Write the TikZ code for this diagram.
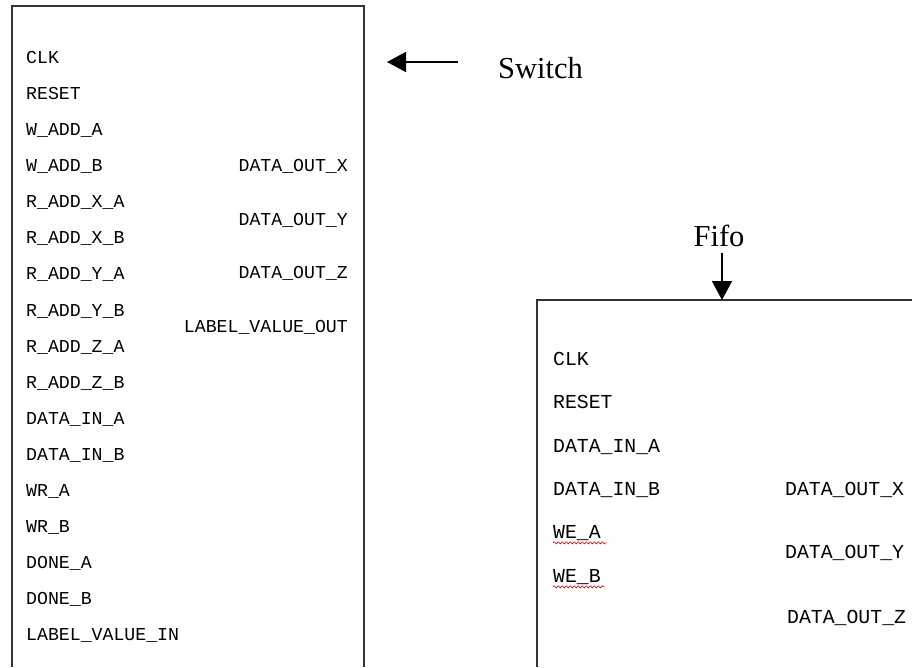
\documentclass[tikz,border=0pt]{standalone}
\usepackage{fontspec}
\setmainfont{Liberation Serif}
\newfontfamily\pinfont{Liberation Mono}
\usepackage{tikz}
\usetikzlibrary{arrows.meta,positioning,decorations.pathmorphing}

\begin{document}
\begin{tikzpicture}[
    x=1pt, y=-1pt,
    block/.style={draw=black!80, line width=1.2pt},
    pinL/.style={anchor=mid west, inner sep=0pt, yshift=-3.5pt, font=\pinfont\fontsize{18.2}{20}\selectfont},
    pinR/.style={anchor=mid east, inner sep=0pt, yshift=-3.5pt, font=\pinfont\fontsize{18.2}{20}\selectfont},
    fpinL/.style={anchor=mid west, inner sep=0pt, yshift=-3.5pt, font=\pinfont\fontsize{19.8}{22}\selectfont},
    title/.style={inner sep=0pt, font=\fontsize{30.5}{34}\selectfont},
    pointer/.style={line width=1.6pt, -{Triangle[length=19pt,width=20pt]}},
    squiggle/.style={draw=red!85!black, line width=0.6pt, decorate,
        decoration={snake, amplitude=1.1pt, segment length=4pt}}
]
\useasboundingbox (0,0) rectangle (912,667);

% Switch block
\draw[block] (12,667) -- (12,6) -- (364,6) -- (364,667);

\node[pinL] (clkS) at (26,57.5) {CLK};
\node[pinL] (resetS) at (26,93.6) {RESET};
\node[pinL] (waddA) at (26,129.7) {W\_ADD\_A};
\node[pinL] (waddB) at (26,165.8) {W\_ADD\_B};
\node[pinL] (raddXA) at (26,201.9) {R\_ADD\_X\_A};
\node[pinL] (raddXB) at (26,238.0) {R\_ADD\_X\_B};
\node[pinL] (raddYA) at (26,274.1) {R\_ADD\_Y\_A};
\node[pinL] (raddYB) at (26,310.2) {R\_ADD\_Y\_B};
\node[pinL] (raddZA) at (26,346.3) {R\_ADD\_Z\_A};
\node[pinL] (raddZB) at (26,382.4) {R\_ADD\_Z\_B};
\node[pinL] (dinAS) at (26,418.5) {DATA\_IN\_A};
\node[pinL] (dinBS) at (26,454.6) {DATA\_IN\_B};
\node[pinL] (wrA) at (26,490.7) {WR\_A};
\node[pinL] (wrB) at (26,526.8) {WR\_B};
\node[pinL] (doneA) at (26,562.9) {DONE\_A};
\node[pinL] (doneB) at (26,599.0) {DONE\_B};
\node[pinL] (lblin) at (26,635.1) {LABEL\_VALUE\_IN};

\node[pinR] (doutXS) at (348,166) {DATA\_OUT\_X};
\node[pinR] (doutYS) at (348,220) {DATA\_OUT\_Y};
\node[pinR] (doutZS) at (348,273) {DATA\_OUT\_Z};
\node[pinR] (lblout) at (348,327) {LABEL\_VALUE\_OUT};

% Switch label
\node[title, anchor=west] (switchlbl) at (498,68) {Switch};
\coordinate (swtail) at (458,62);
\coordinate (swtip) at (387,62);
\draw[pointer] (swtail) -- (swtip);

% Fifo block
\draw[block] (537,667) -- (537,300) -- (912,300);

\node[fpinL] (clkF) at (553,360) {CLK};
\node[fpinL] (resetF) at (553,403) {RESET};
\node[fpinL] (dinAF) at (553,447) {DATA\_IN\_A};
\node[fpinL] (dinBF) at (553,490) {DATA\_IN\_B};
\node[fpinL] (weA) at (553,533) {WE\_A};
\node[fpinL] (weB) at (553,577) {WE\_B};

\node[fpinL] (doutXF) at (785,490) {DATA\_OUT\_X};
\node[fpinL] (doutYF) at (785,553) {DATA\_OUT\_Y};
\node[fpinL] (doutZF) at (787,618) {DATA\_OUT\_Z};

% spell-check marks
\draw[squiggle] ([yshift=-4pt]weA.base west) -- ([yshift=-4pt,xshift=6pt]weA.base east);
\draw[squiggle] ([yshift=-4pt]weB.base west) -- ([yshift=-4pt,xshift=4pt]weB.base east);

% Fifo label
\node[title] (fifolbl) at (719,236) {Fifo};
\coordinate (fftail) at (722,253);
\coordinate (fftip) at (722,300);
\draw[pointer] (fftail) -- (fftip);

\end{tikzpicture}
\end{document}
